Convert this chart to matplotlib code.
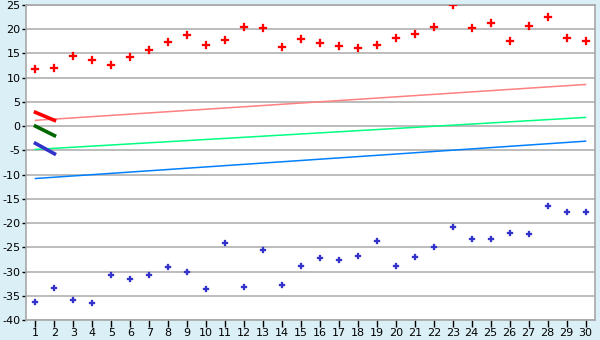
import matplotlib
matplotlib.use("Agg")
import matplotlib.pyplot as plt

plt.rcParams['axes.unicode_minus'] = False

x = list(range(1, 31))
red_pts = [11.7, 12.1, 14.4, 13.6, 12.55, 14.2, 15.65, 17.3, 18.75, 16.7,
           17.7, 20.4, 20.2, 16.3, 17.9, 17.1, 16.5, 16.1, 16.7, 18.1,
           18.95, 20.4, 25.0, 20.2, 21.2, 17.5, 20.6, 22.45, 18.1, 17.5]
blue_pts = [-36.35, -33.45, -35.95, -36.55, -30.8, -31.6, -30.8, -29.15, -30.15, -33.65,
            -24.2, -33.25, -25.6, -32.85, -28.9, -27.3, -27.7, -26.85, -23.75, -28.9,
            -27.05, -25.0, -20.9, -23.35, -23.35, -22.1, -22.3, -16.55, -17.8, -17.8]
trend_x = [1, 30]
trend_red = [1.2, 8.6]
trend_green = [-4.8, 1.8]
trend_blue = [-10.8, -3.1]
short_x = [1, 2]
short_red = [2.85, 1.2]
short_green = [0.0, -1.95]
short_blue = [-3.55, -5.7]

yticks = list(range(-40, 26, 5))

fig = plt.figure(figsize=(6, 3.4), dpi=100)
fig.patch.set_facecolor('#daeff6')
ax = fig.add_axes([26/600, 20/340, 569/600, 315/340])
ax.set_facecolor('white')

for yt in yticks:
    ax.axhline(yt, color='#b0b0b0', lw=1.2, zorder=1)

ax.plot(trend_x, trend_red, color='#ff8080', lw=1.1, zorder=2)
ax.plot(trend_x, trend_green, color='#00ff80', lw=1.1, zorder=2)
ax.plot(trend_x, trend_blue, color='#0080ff', lw=1.1, zorder=2)

ax.plot(short_x, short_red, color='#ff0000', lw=2.6, zorder=3)
ax.plot(short_x, short_green, color='#006600', lw=2.6, zorder=3)
ax.plot(short_x, short_blue, color='#3333cc', lw=2.6, zorder=3)

ax.plot(x, red_pts, linestyle='none', marker='P', markersize=5.2,
        color='#ff0000', markeredgewidth=0.2, zorder=4)
ax.plot(x, blue_pts, linestyle='none', marker='P', markersize=4.3,
        color='#3333cc', markeredgewidth=0.2, zorder=4)

ax.set_xlim(0.5, 30.5)
ax.set_ylim(-40, 25)
ax.set_xticks(x)
ax.set_yticks(yticks)
ax.tick_params(axis='x', direction='out', length=5, width=1, color='black',
               labelsize=8, pad=1)
ax.tick_params(axis='y', direction='out', length=3, width=1, color='black',
               labelsize=8, pad=1)
for s in ax.spines.values():
    s.set_color('#a8a8a8')
    s.set_linewidth(1.2)

fig.savefig('out.png', dpi=100, facecolor=fig.get_facecolor())
